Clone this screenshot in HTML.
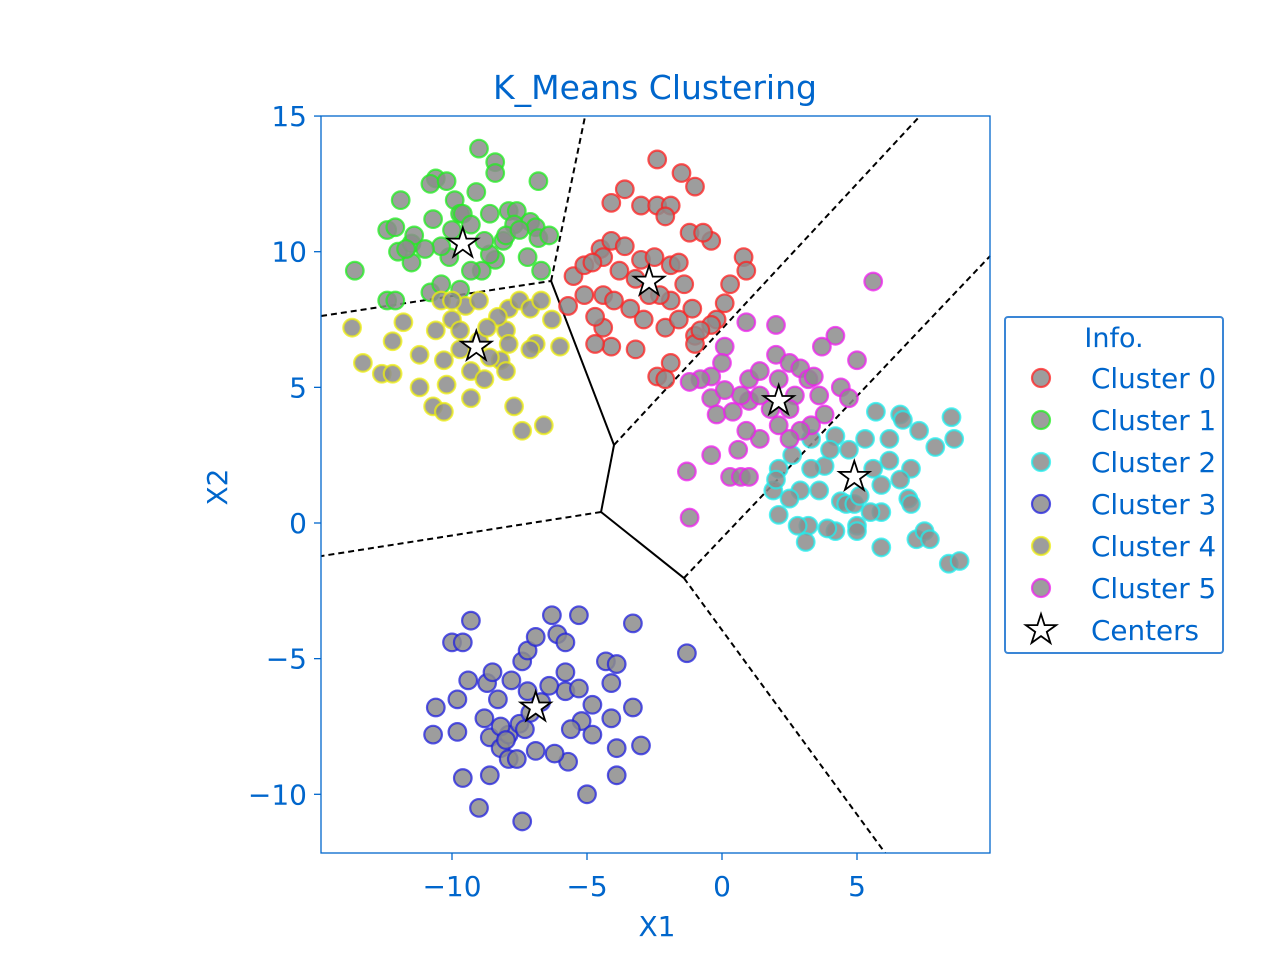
<!DOCTYPE html>
<html><head><meta charset="utf-8"><style>
body{margin:0;background:#fff;}
svg text{font-family:"DejaVu Sans","Liberation Sans",sans-serif;fill:#0066cc;}
</style></head><body>
<svg id="chart" width="1280" height="960" xmlns="http://www.w3.org/2000/svg">
<text x="655" y="99" font-size="33" text-anchor="middle">K_Means Clustering</text>
<g id="boundaries"></g>
<g id="points"></g>
<g id="centers"></g>
<rect x="321" y="116" width="669" height="737" fill="none" stroke="#0066cc" stroke-width="1.3"/>
<g id="xticks"></g>
<g id="yticks"></g>
<text x="657" y="936" font-size="28" text-anchor="middle">X1</text>
<text transform="translate(227,487) rotate(-90)" font-size="28" text-anchor="middle">X2</text>
<g id="legend">
<rect x="1005" y="317" width="218" height="336" rx="3" fill="#fff" stroke="#3a86d6" stroke-width="2"/>
<text x="1114" y="347" font-size="27" text-anchor="middle">Info.</text>
</g>
</svg>
<script>
const NS="http://www.w3.org/2000/svg";
const xTicks=[-10,-5,0,5];
const yTicks=[15,10,5,0,-5,-10];
const tickLabel=v=>v<0?"\u2212"+Math.abs(v):String(v);
const clusterNames=["Cluster 0","Cluster 1","Cluster 2","Cluster 3","Cluster 4","Cluster 5"];
const clusterColors=["#ff2020","#20ee20","#20eeee","#2020dd","#eeee10","#ee20ee"];
const cluster0=[[-2.4,13.4],[-1.5,12.9],[-1.0,12.4],[-4.1,11.8],[-3.6,12.3],[-3.0,11.7],[-2.4,11.7],[-1.9,11.7],[-2.1,11.3],[-1.2,10.7],[-0.4,10.4],[-0.7,10.7],[0.8,9.8],[0.9,9.3],[0.3,8.8],[0.1,8.1],[-0.2,7.5],[-0.4,7.3],[-1.0,6.9],[-1.0,6.6],[-1.9,5.9],[-2.4,5.4],[-2.1,5.3],[-3.2,6.4],[-4.1,6.5],[-4.7,6.6],[-4.4,7.2],[-4.7,7.6],[-4.4,8.4],[-5.1,8.4],[-5.5,9.1],[-5.7,8.0],[-5.1,9.5],[-4.5,10.1],[-4.1,10.4],[-3.6,10.2],[-3.0,9.7],[-2.5,9.8],[-1.9,9.5],[-1.6,9.6],[-1.9,8.2],[-2.3,8.4],[-2.9,7.5],[-3.4,7.9],[-4.0,8.2],[-4.4,9.8],[-4.8,9.6],[-3.8,9.3],[-3.2,9.0],[-2.7,8.4],[-2.1,7.2],[-1.6,7.5],[-0.8,7.1],[-1.1,7.9],[-1.4,8.8]];
const cluster1=[[-13.6,9.3],[-12.4,10.8],[-12.1,10.9],[-11.9,11.9],[-12.0,10.0],[-11.5,10.3],[-10.6,12.7],[-10.8,12.5],[-10.2,12.6],[-9.9,11.9],[-9.7,11.4],[-9.0,13.8],[-8.4,13.3],[-8.4,12.9],[-9.1,12.2],[-8.6,11.4],[-7.9,11.5],[-7.6,11.5],[-7.7,11.0],[-7.1,11.1],[-6.9,10.9],[-6.8,12.6],[-6.8,10.5],[-6.7,9.3],[-6.4,10.6],[-7.2,9.8],[-8.1,10.4],[-8.4,9.7],[-8.9,9.3],[-9.6,11.4],[-10.7,11.2],[-11.4,10.6],[-11.5,9.6],[-11.7,10.1],[-12.4,8.2],[-12.1,8.2],[-10.8,8.5],[-10.4,8.8],[-9.7,8.6],[-8.6,9.9],[-8.0,10.6],[-7.5,10.8],[-10.1,9.8],[-10.0,10.8],[-9.3,11.0],[-8.8,10.4],[-10.4,10.2],[-11.0,10.1],[-9.3,9.3]];
const cluster2=[[5.7,4.1],[6.6,4.0],[6.7,3.8],[7.3,3.4],[8.5,3.9],[8.6,3.1],[7.9,2.8],[7.0,2.0],[6.2,2.3],[5.6,2.0],[5.9,1.4],[5.9,0.4],[5.5,0.4],[5.0,-0.1],[5.0,-0.3],[4.2,-0.3],[3.9,-0.2],[3.2,-0.1],[2.8,-0.1],[3.1,-0.7],[2.1,0.3],[1.9,1.2],[2.1,2.0],[2.6,2.5],[3.3,3.1],[4.2,3.2],[4.7,2.7],[3.8,2.1],[3.6,1.2],[2.9,1.2],[4.4,0.8],[4.6,0.7],[6.9,0.9],[7.0,0.7],[7.2,-0.6],[7.5,-0.3],[7.7,-0.6],[8.4,-1.5],[8.8,-1.4],[5.9,-0.9],[4.9,0.7],[2.5,0.9],[2.0,1.6],[5.3,3.1],[6.2,3.1],[4.0,2.7],[3.3,2.0],[6.6,1.6],[5.1,1.0]];
const cluster3=[[-10.0,-4.4],[-9.6,-4.4],[-9.3,-3.6],[-10.6,-6.8],[-10.7,-7.8],[-9.8,-7.7],[-9.8,-6.5],[-9.4,-5.8],[-8.7,-5.9],[-8.5,-5.5],[-8.8,-7.2],[-8.6,-7.9],[-8.2,-8.3],[-7.9,-8.7],[-7.9,-7.8],[-8.2,-7.5],[-7.5,-7.4],[-7.1,-7.0],[-7.2,-6.2],[-7.4,-5.1],[-7.2,-4.7],[-6.9,-4.2],[-6.3,-3.4],[-6.1,-4.1],[-5.8,-4.4],[-5.8,-5.5],[-5.8,-6.2],[-5.3,-6.1],[-5.2,-7.3],[-5.6,-7.6],[-5.7,-8.8],[-6.2,-8.5],[-6.9,-8.4],[-7.6,-8.7],[-8.6,-9.3],[-9.6,-9.4],[-9.0,-10.5],[-7.4,-11.0],[-5.0,-10.0],[-3.9,-9.3],[-3.9,-8.3],[-4.1,-7.2],[-4.8,-6.7],[-4.3,-5.1],[-3.9,-5.2],[-4.1,-5.9],[-3.3,-6.8],[-3.3,-3.7],[-5.3,-3.4],[-1.3,-4.8],[-3.0,-8.2],[-6.7,-6.6],[-7.8,-5.8],[-6.4,-6.0],[-4.8,-7.8],[-8.0,-8.0],[-7.3,-7.6],[-8.3,-6.5]];
const cluster4=[[-13.7,7.2],[-13.3,5.9],[-12.6,5.5],[-12.2,5.5],[-12.2,6.7],[-11.8,7.4],[-11.2,5.0],[-10.7,4.3],[-10.3,4.1],[-10.2,5.1],[-10.6,7.1],[-10.4,8.2],[-10.0,7.5],[-9.7,6.4],[-9.3,5.6],[-9.3,4.6],[-8.8,5.3],[-8.2,6.0],[-8.0,7.1],[-7.9,7.9],[-7.5,8.2],[-7.1,7.9],[-6.7,8.2],[-6.3,7.5],[-6.0,6.5],[-6.9,6.6],[-7.1,6.4],[-7.7,4.3],[-7.4,3.4],[-6.6,3.6],[-8.0,5.6],[-8.6,6.1],[-9.0,6.7],[-9.7,7.1],[-9.5,8.0],[-9.0,8.2],[-8.3,7.6],[-7.9,6.6],[-8.7,7.2],[-10.3,6.0],[-11.2,6.2],[-10.0,8.2]];
const cluster5=[[5.6,8.9],[5.0,6.0],[4.2,6.9],[3.7,6.5],[2.0,7.3],[0.9,7.4],[0.1,6.5],[0.0,5.9],[-0.4,5.4],[-0.8,5.3],[-1.2,5.2],[-0.4,4.6],[-0.2,4.0],[0.4,4.1],[1.0,4.5],[1.0,5.3],[1.4,5.6],[2.0,6.2],[2.5,5.9],[2.9,5.7],[3.2,5.3],[3.6,4.7],[4.4,5.0],[4.7,4.6],[3.8,4.0],[3.3,3.6],[2.9,3.4],[2.5,3.1],[2.1,3.6],[1.4,3.1],[0.9,3.4],[0.6,2.7],[0.3,1.7],[0.7,1.7],[1.0,1.7],[-1.3,1.9],[-1.2,0.2],[-0.4,2.5],[1.8,4.2],[2.7,4.7],[3.4,5.4],[2.5,4.2],[1.4,4.7],[2.1,5.3],[0.7,4.7],[0.1,4.9]];
const clusters=[cluster0,cluster1,cluster2,cluster3,cluster4,cluster5];
const centersX=[-2.7,-9.6,4.9,-6.9,-9.1,2.1];
const centersY=[8.9,10.3,1.7,-6.8,6.5,4.5];
const boundarySegs=[[-14.85,7.63,-6.33,8.92,1],[-6.33,8.92,-5.07,15,1],[-6.33,8.92,-4.0,2.875,0],[-4.0,2.875,-4.48,0.405,0],[-4.48,0.405,-1.41,-2.03,0],[-4.0,2.875,7.33,15,1],[-1.41,-2.03,9.93,9.84,1],[-4.48,0.405,-14.85,-1.22,1],[-1.41,-2.03,6.04,-12.16,1]];

const X=v=>722+27*v, Y=v=>523-27.13*v;
function mk(tag,attrs,parent){const e=document.createElementNS(NS,tag);for(const k in attrs)e.setAttribute(k,attrs[k]);parent.appendChild(e);return e;}
function starPath(cx,cy,R){const r=R*0.382;let d="";for(let i=0;i<10;i++){const a=-Math.PI/2+i*Math.PI/5;const rr=i%2?r:R;d+=(i?"L":"M")+(cx+rr*Math.cos(a)).toFixed(1)+","+(cy+rr*Math.sin(a)).toFixed(1);}return d+"Z";}

const gb=document.getElementById("boundaries");
boundarySegs.forEach(s=>{
 const l=mk("line",{x1:X(s[0]),y1:Y(s[1]),x2:X(s[2]),y2:Y(s[3]),stroke:"#000","stroke-width":2,"stroke-dasharray":s[4]?"6,4":"none"},gb);
 
 
});
const gp=document.getElementById("points");
clusters.forEach((pts,ci)=>{
 pts.forEach(p=>{
  const c=mk("circle",{cx:X(p[0]),cy:Y(p[1]),r:8.8,fill:"#8c8c8c","fill-opacity":0.85,stroke:clusterColors[ci],"stroke-opacity":0.75,"stroke-width":2.2},gp);
  
  
 });
});
const gc=document.getElementById("centers");
centersX.forEach((cx,i)=>{
 const s=mk("path",{d:starPath(X(cx),Y(centersY[i]),16),fill:"#fff",stroke:"#000","stroke-width":1.8},gc);
 
 
});
const gx=document.getElementById("xticks");
xTicks.forEach(v=>{
 const l=mk("line",{x1:X(v),x2:X(v),y1:853,y2:860,stroke:"#0066cc","stroke-width":1.3},gx);
 
 
 const t=mk("text",{x:X(v),y:896,"font-size":28,"text-anchor":"middle"},gx);t.textContent=tickLabel(v);
 
 
});
const gy=document.getElementById("yticks");
yTicks.forEach(v=>{
 const l=mk("line",{x1:314,x2:321,y1:Y(v),y2:Y(v),stroke:"#0066cc","stroke-width":1.3},gy);
 
 
 const t=mk("text",{x:307,y:Y(v)+10,"font-size":28,"text-anchor":"end"},gy);t.textContent=tickLabel(v);
 
 
});
const gl=document.getElementById("legend");
clusterNames.concat(["Centers"]).forEach((n,i)=>{
 const y=378+i*42;
 let m;
 if(i<6){m=mk("circle",{cx:1041,cy:y,r:9,fill:"#8c8c8c","fill-opacity":0.85,stroke:clusterColors[i],"stroke-opacity":0.75,"stroke-width":2.2},gl);}
 else{m=mk("path",{d:starPath(1041,y,16),fill:"#fff",stroke:"#000","stroke-width":1.8},gl);}
 
 
 const t=mk("text",{x:1091,y:y+10,"font-size":27.8},gl);t.textContent=n;
 
 
});
</script>
</body></html>
